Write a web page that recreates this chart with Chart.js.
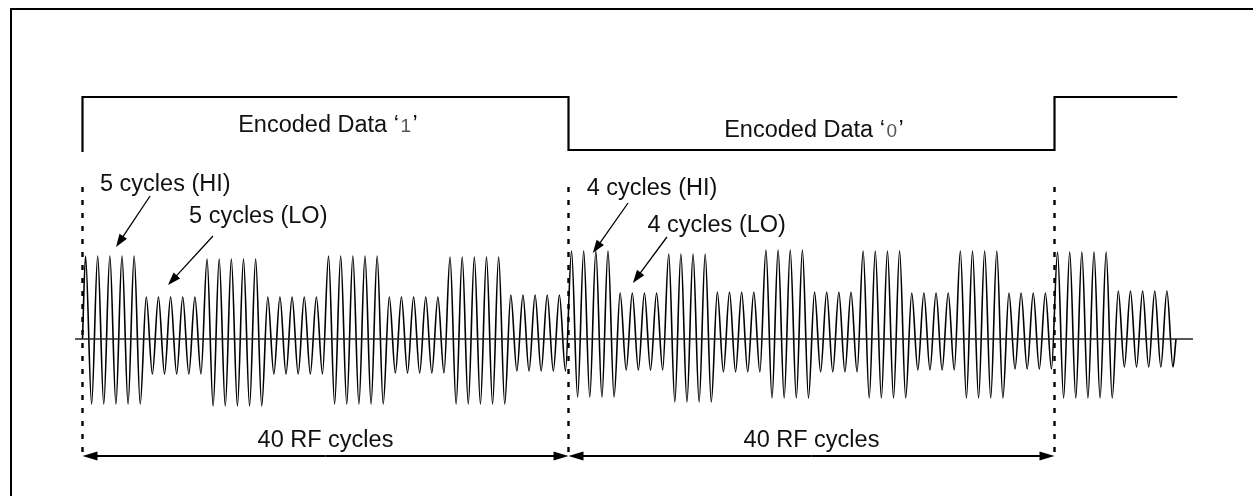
<!DOCTYPE html>
<html>
<head>
<meta charset="utf-8">
<script src="https://cdn.jsdelivr.net/npm/chart.js@4.4.1/dist/chart.umd.min.js"></script>
<style>
  html, body { margin: 0; padding: 0; background: #fff; }
  canvas { display: block; }
</style>
</head>
<body>
<canvas id="chart" width="1253" height="496"></canvas>
<script>
// x is counted in RF cycles, y in signal units (0 = the carrier axis)

// encoded data line: edges (cycles) and level of each segment
const dataEdges = [0, 40, 80, 90.1];
const dataLevels = [242, 189, 242];
const dataStartLevel = 187;

// RF carrier, group by group (cycles in group, peak, trough)
const groupCycles = [5, 5, 5, 5, 5, 5, 5, 5, 4, 4, 4, 4, 4, 4, 4, 4, 4, 4, 5, 5];
const groupPeak = [83, 42, 80, 42, 83, 42, 82, 44, 88, 46, 85, 47, 89, 47, 88, 46, 88, 46, 87, 48];
const groupTrough = [-65, -35, -67, -35, -65, -34, -65, -32, -58, -31, -63, -33, -59, -33, -59, -31, -59, -30, -59, -28];

// bit boundaries (dashed markers) and the 40 cycle spans
const bitBounds = [0, 40, 80];
const spans = [[0, 40], [40, 80]];
const spanLabel = '40 RF cycles';
const bitLabels = ['1', '0'];

// build the point lists the line datasets need
const wavePoints = [{ x: 0, y: 0 }];
let cyc = 0;
groupCycles.forEach((n, g) => {
  for (let k = 0; k < n; k++) {
    wavePoints.push({ x: cyc + 0.25, y: groupPeak[g] });
    wavePoints.push({ x: cyc + 0.75, y: groupTrough[g] });
    cyc++;
  }
});
wavePoints.push({ x: cyc, y: 0 });

const dataPoints = [{ x: dataEdges[0], y: dataStartLevel }];
dataLevels.forEach((lvl, i) => {
  dataPoints.push({ x: dataEdges[i], y: lvl });
  dataPoints.push({ x: dataEdges[i + 1], y: lvl });
});

const axisPoints = [{ x: -0.62, y: 0 }, { x: 91.4, y: 0 }];

const markerSets = bitBounds.map(c => ({
  data: [{ x: c, y: 152 }, { x: c, y: -119 }],
  borderColor: '#000',
  borderWidth: 2.4,
  borderDash: [5, 8],
  borderCapStyle: 'butt',
  pointRadius: 0
}));

const FONT = '"Liberation Sans", Arial, sans-serif';

// text and pointers, placed in chart units
const notes = {
  bitText: [{ c: 20.2, v: 207 }, { c: 60.2, v: 202 }],
  cycleText: [
    { text: '5 cycles (HI)', c: 1.44, v: 148 },
    { text: '5 cycles (LO)', c: 8.77, v: 116 },
    { text: '4 cycles (HI)', c: 41.5, v: 144 },
    { text: '4 cycles (LO)', c: 46.5, v: 107 }
  ],
  pointers: [
    [5.56, 143, 2.76, 92],
    [10.74, 103, 7.04, 54],
    [44.9, 136, 42.0, 86],
    [48.1, 102, 45.3, 56]
  ],
  spanY: -117,
  spanTextY: -108
};

function arrow(ctx, x1, y1, x2, y2, len, half, width) {
  const a = Math.atan2(y2 - y1, x2 - x1);
  const bx = x2 - Math.cos(a) * len, by = y2 - Math.sin(a) * len;
  ctx.lineWidth = width;
  ctx.beginPath();
  ctx.moveTo(x1, y1);
  ctx.lineTo(bx + Math.cos(a) * 2, by + Math.sin(a) * 2);
  ctx.stroke();
  ctx.beginPath();
  ctx.moveTo(x2, y2);
  ctx.lineTo(bx + Math.sin(a) * half, by - Math.cos(a) * half);
  ctx.lineTo(bx - Math.sin(a) * half, by + Math.cos(a) * half);
  ctx.closePath();
  ctx.fill();
}

const diagram = {
  id: 'diagram',
  beforeDraw(chart) {
    const ctx = chart.ctx;
    ctx.save();
    ctx.fillStyle = '#fff';
    ctx.fillRect(0, 0, chart.width, chart.height);
    // figure frame
    ctx.strokeStyle = '#000';
    ctx.lineWidth = 2;
    ctx.beginPath();
    ctx.moveTo(11, chart.height);
    ctx.lineTo(11, 9);
    ctx.lineTo(chart.width, 9);
    ctx.stroke();
    ctx.restore();
  },
  afterDatasetsDraw(chart) {
    const ctx = chart.ctx;
    const xs = chart.scales.x, ys = chart.scales.y;
    const px = c => xs.getPixelForValue(c);
    const py = v => ys.getPixelForValue(v);
    ctx.save();
    ctx.fillStyle = '#111';
    ctx.strokeStyle = '#000';
    ctx.textBaseline = 'alphabetic';

    // Encoded Data 'x' (the bit itself is set in a lighter, narrower face)
    notes.bitText.forEach((p, i) => {
      const head = 'Encoded Data \u2018', tail = '\u2019';
      ctx.font = '23.5px ' + FONT;
      const w1 = ctx.measureText(head).width, w3 = ctx.measureText(tail).width;
      ctx.font = '19px ' + FONT;
      const w2 = ctx.measureText(bitLabels[i]).width + 3;
      const x = px(p.c) - (w1 + w2 + w3) / 2;
      const y = py(p.v);
      ctx.textAlign = 'left';
      ctx.font = '23.5px ' + FONT;
      ctx.fillText(head, x, y);
      ctx.font = '19px ' + FONT;
      ctx.fillStyle = '#555';
      ctx.fillText(bitLabels[i], x + w1 + 1.5, y);
      ctx.fillStyle = '#111';
      ctx.font = '23.5px ' + FONT;
      ctx.fillText(tail, x + w1 + w2, y);
    });

    ctx.font = '23.5px ' + FONT;
    ctx.textAlign = 'left';
    notes.cycleText.forEach(t => ctx.fillText(t.text, px(t.c), py(t.v)));

    ctx.fillStyle = '#000';
    notes.pointers.forEach(p => arrow(ctx, px(p[0]), py(p[1]), px(p[2]), py(p[3]), 13, 4.5, 1.3));

    // 40 RF cycles spans
    spans.forEach(s => {
      const a = px(s[0]), b = px(s[1]), y = py(notes.spanY);
      const mid = (a + b) / 2;
      arrow(ctx, mid, y, a, y, 15, 4.5, 2);
      arrow(ctx, mid, y, b, y, 15, 4.5, 2);
      ctx.fillStyle = '#111';
      ctx.textAlign = 'center';
      ctx.fillText(spanLabel, px((s[0] + s[1]) / 2), py(notes.spanTextY));
      ctx.fillStyle = '#000';
    });
    ctx.restore();
  }
};

new Chart(document.getElementById('chart'), {
  type: 'line',
  data: {
    datasets: [
      {
        data: dataPoints,
        borderColor: '#000',
        borderWidth: 2.2,
        pointRadius: 0
      },
      {
        data: axisPoints,
        borderColor: '#222',
        borderWidth: 1.5,
        pointRadius: 0
      },
      {
        data: wavePoints,
        borderColor: '#000',
        borderWidth: 1.6,
        pointRadius: 0,
        cubicInterpolationMode: 'monotone'
      },
      ...markerSets
    ]
  },
  options: {
    responsive: false,
    animation: false,
    devicePixelRatio: 1,
    layout: { padding: 0 },
    plugins: { legend: { display: false }, tooltip: { enabled: false } },
    scales: {
      x: { type: 'linear', min: -6.79, max: 96.337, display: false },
      y: { min: -157, max: 339, display: false }
    }
  },
  plugins: [diagram]
});
</script>
</body>
</html>
